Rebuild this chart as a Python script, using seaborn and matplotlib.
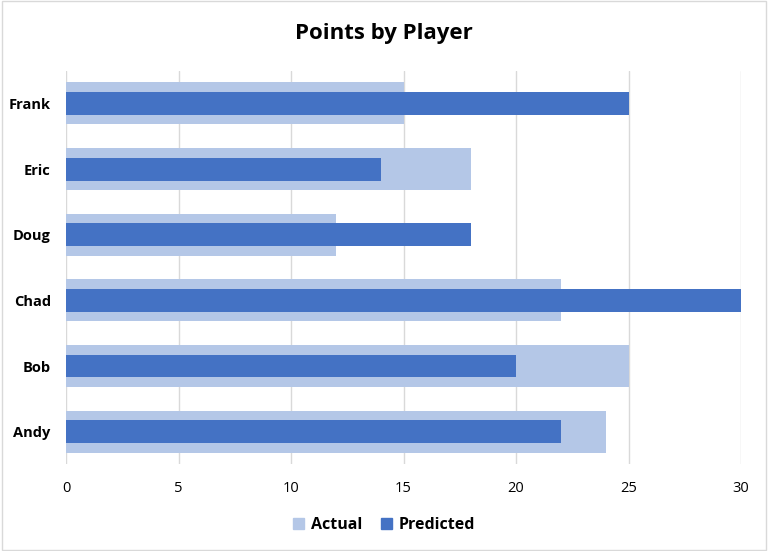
import pandas as pd
import seaborn as sns
import matplotlib.pyplot as plt
from matplotlib.patches import Rectangle, Patch

# points per player, top row first
players = ['Frank', 'Eric', 'Doug', 'Chad', 'Bob', 'Andy']
actual = [15, 18, 12, 22, 25, 24]
predicted = [25, 14, 18, 30, 20, 22]

light_blue = '#B4C7E7'
dark_blue = '#4472C4'

df = pd.DataFrame({'player': players, 'Actual': actual, 'Predicted': predicted})

sns.set_style('white')
plt.rcParams['font.family'] = ['Open Sans', 'DejaVu Sans']
plt.rcParams['text.color'] = 'black'
plt.rcParams['xtick.color'] = 'black'
plt.rcParams['ytick.color'] = 'black'

fig = plt.figure(figsize=(7.68, 5.51), dpi=100)
ax = fig.add_axes([0.086, 0.157, 0.879, 0.715])

# wide pale bar for actual, narrow dark bar on top for predicted
sns.barplot(data=df, y='player', x='Actual', order=players, color=light_blue,
            width=0.64, saturation=1, linewidth=0, ax=ax, zorder=2)
sns.barplot(data=df, y='player', x='Predicted', order=players, color=dark_blue,
            width=0.35, saturation=1, linewidth=0, ax=ax, zorder=3)

ax.set_xlim(0, 30)
ax.set_ylim(5.5, -0.5)
ax.set_xticks(range(0, 31, 5))
ax.grid(axis='x', color='#D9D9D9', linewidth=1, zorder=0)
ax.set_axisbelow(True)
for s in ax.spines.values():
    s.set_visible(False)
ax.tick_params(axis='both', length=0)
ax.tick_params(axis='x', labelsize=10.5, pad=12)
ax.tick_params(axis='y', pad=11)
for lbl in ax.get_yticklabels():
    lbl.set_fontweight('bold')
    lbl.set_fontsize(10.5)
ax.set_xlabel('')
ax.set_ylabel('')

fig.suptitle('Points by Player', fontsize=16, fontweight='bold', y=0.958)

handles = [Patch(color=light_blue, label='Actual'), Patch(color=dark_blue, label='Predicted')]
leg = fig.legend(handles=handles, loc='center', bbox_to_anchor=(0.5, 0.047), ncol=2,
                 frameon=False, handlelength=0.7, handleheight=0.7, handletextpad=0.4,
                 columnspacing=1.2, prop={'weight': 'bold', 'size': 11.5})

# light chart border
fig.patches.append(Rectangle((0.002, 0.002), 0.996, 0.996, transform=fig.transFigure,
                             fill=False, edgecolor='#D9D9D9', linewidth=1))

fig.savefig('out.png', dpi=100)
